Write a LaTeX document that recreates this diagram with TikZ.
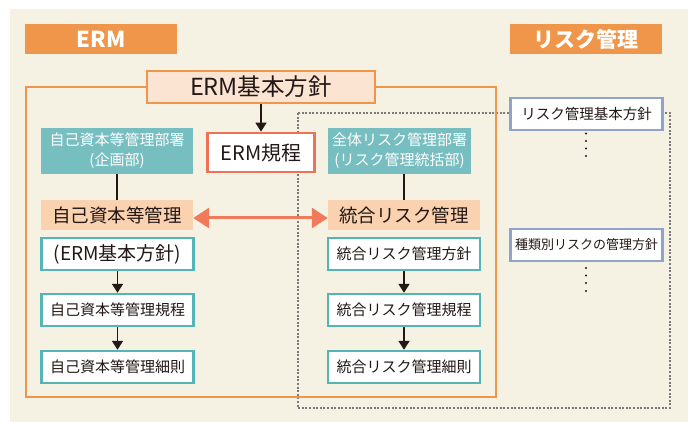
\documentclass[tikz,border=0pt]{standalone}
\usepackage{fontspec}
\setmainfont{Noto Sans CJK JP}
\usetikzlibrary{arrows.meta}
\definecolor{bgc}{HTML}{F5F1E3}
\definecolor{orng}{HTML}{F0964A}
\definecolor{peachA}{HTML}{FCE4D2}
\definecolor{peachB}{HTML}{FAD2AF}
\definecolor{tealF}{HTML}{77BEC1}
\definecolor{tealB}{HTML}{55B4B6}
\definecolor{coral}{HTML}{EE7257}
\definecolor{arrc}{HTML}{F07A5A}
\definecolor{bluegr}{HTML}{8FA3CC}
\definecolor{dotg}{HTML}{7A7A7A}
\definecolor{txt}{HTML}{231815}
\tikzset{
  box/.style={inner sep=0pt, align=center, text=txt},
  hdr/.style={box, fill=orng, text=white, minimum width=152, minimum height=30, font=\fontsize{22}{26}\selectfont\bfseries},
  basicbox/.style={box, fill=peachA, draw=orng, line width=2.4pt, minimum width=228, minimum height=32, font=\fontsize{23.5}{27}\selectfont},
  kiteibox/.style={box, fill=white, draw=coral, line width=2.8pt, minimum width=107, minimum height=39, font=\fontsize{20}{24}\selectfont},
  deptbox/.style={box, fill=tealF, text=white, minimum height=46, font=\fontsize{15}{20}\selectfont},
  mgmtbox/.style={box, fill=peachB, minimum width=152, minimum height=30, font=\fontsize{18.5}{22}\selectfont},
  docbox/.style={box, fill=white, draw=tealB, line width=2.4pt, minimum width=152, minimum height=32, font=\fontsize{15}{20}\selectfont},
  rmbox/.style={box, fill=white, draw=bluegr, line width=2.4pt, minimum width=152, minimum height=32, font=\fontsize{14.5}{18}\selectfont},
  arr/.style={line width=1.8pt, txt, -{Triangle[width=11pt,length=9pt]}},
  plain/.style={line width=1.8pt, txt},
  dbl/.style={line width=3pt, arrc, {Triangle[width=20pt,length=16pt]}-{Triangle[width=20pt,length=16pt]}},
  dotline/.style={dotg, line width=2.4pt, dash pattern=on 2pt off 1.6pt},
  dotmark/.style={circle, fill=txt, inner sep=0pt, minimum size=2.4pt}
}
\begin{document}
\begin{tikzpicture}[x=1pt,y=-1pt]
\useasboundingbox (0,0) rectangle (688,422);
\fill[bgc] (10,9) rectangle (688,422);
% frames
\draw[dotline] (298,113) rectangle (670,408);
\draw[orng, line width=2.4pt] (26,87) rectangle (496,397);
% headers
\node[hdr] (erm) at (101,39) {ERM};
\node[hdr, font=\fontsize{21}{25}\selectfont\bfseries] (rmh) at (586,39) {リスク管理};
% top
\node[basicbox] (basic) at (261,87) {ERM基本方針};
\node[kiteibox] (kitei) at (261,152.5) {ERM規程};
% left column
\node[deptbox, minimum width=152] (deptL) at (117,151) {自己資本等管理部署\\(企画部)};
\node[mgmtbox] (mgL) at (117,215) {自己資本等管理};
\node[docbox, font=\fontsize{19}{22}\selectfont] (dL1) at (117.5,254) {(ERM基本方針)};
\node[docbox] (dL2) at (117.5,310) {自己資本等管理規程};
\node[docbox] (dL3) at (117.5,367) {自己資本等管理細則};
% right column
\node[deptbox, minimum width=143] (deptR) at (399.5,151) {全体リスク管理部署\\(リスク管理統括部)};
\node[mgmtbox] (mgR) at (404,215) {統合リスク管理};
\node[docbox] (dR1) at (404,254) {統合リスク管理方針};
\node[docbox] (dR2) at (404,310) {統合リスク管理規程};
\node[docbox] (dR3) at (404,367) {統合リスク管理細則};
% risk management column
\node[rmbox] (rm1) at (586.5,114) {リスク管理基本方針};
\node[rmbox, font=\fontsize{13}{16}\selectfont] (rm2) at (586.5,245) {種類別リスクの管理方針};
\foreach \y in {133.5,141,148.5,156} \node[dotmark] at (586,\y) {};
\foreach \y in {268,275.5,283,291} \node[dotmark] at (586,\y) {};
% connectors
\draw[arr] (basic.south) -- (kitei.north);
\draw[plain] (deptL.south) -- (mgL.north);
\draw[plain] (mgR.north |- deptR.south) -- (mgR.north);
\draw[arr] (dL1.south) -- (dL2.north);
\draw[arr] (dL2.south) -- (dL3.north);
\draw[arr] (dR1.south) -- (dR2.north);
\draw[arr] (dR2.south) -- (dR3.north);
\draw[dbl] ([yshift=-3pt]mgL.east) -- ([yshift=-3pt]mgR.west);
\end{tikzpicture}
\end{document}
